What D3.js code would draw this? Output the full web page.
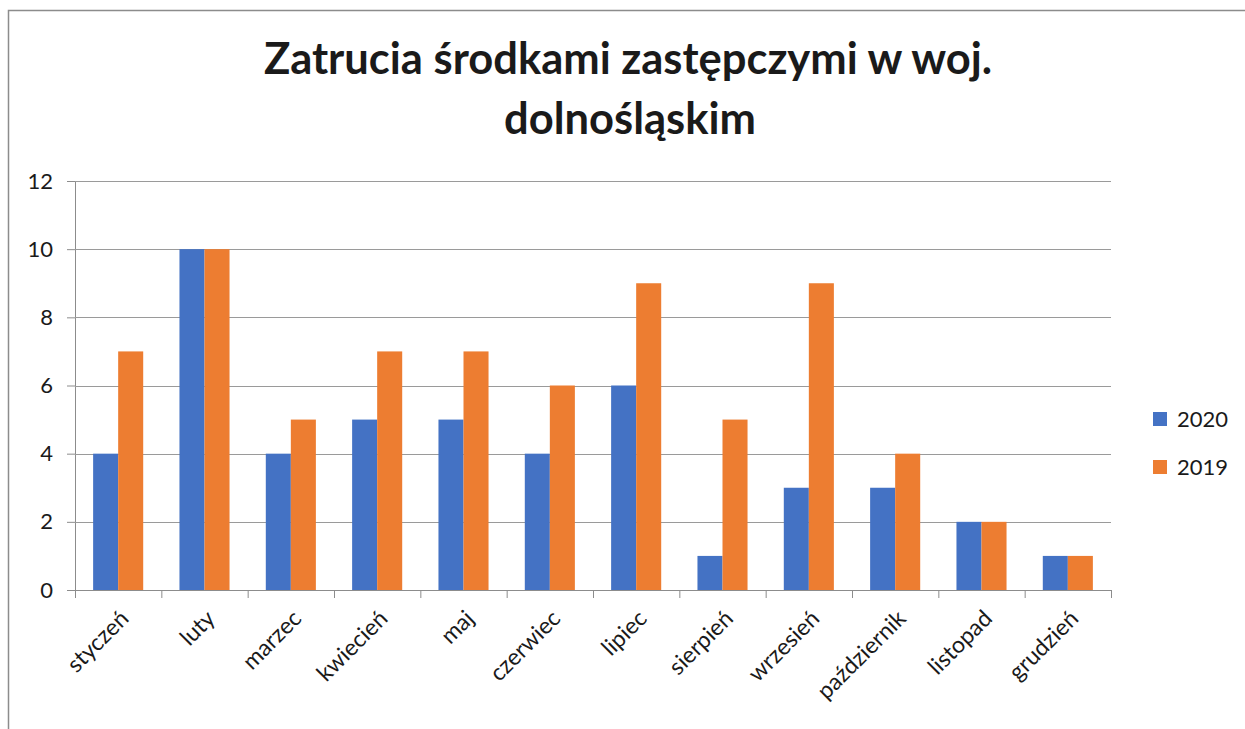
<!DOCTYPE html>
<html lang="pl">
<head>
<meta charset="UTF-8">
<title>Zatrucia środkami zastępczymi</title>
<script src="https://d3js.org/d3.v7.min.js"></script>
<style>
  body { margin: 0; background: #fff; }
  text { font-family: Lato, "Open Sans", sans-serif; fill: #1a1a1a; }
</style>
</head>
<body>
<div id="chart"></div>
<script>
// months (categories)
const months = ["styczeń", "luty", "marzec", "kwiecień", "maj", "czerwiec",
  "lipiec", "sierpień", "wrzesień", "październik", "listopad", "grudzień"];
// series values
const v2020 = [4, 10, 4, 5, 5, 4, 6, 1, 3, 3, 2, 1];
const v2019 = [7, 10, 5, 7, 7, 6, 9, 5, 9, 4, 2, 1];
const seriesNames = ["2020", "2019"];
const yTicks = [0, 2, 4, 6, 8, 10, 12];

const width = 1245, height = 729;
const colors = ["#4472C4", "#ED7D31"];

const svg = d3.select("#chart").append("svg")
  .attr("width", width)
  .attr("height", height);

// chart border (top + left visible)
svg.append("path")
  .attr("d", `M8.5,${height + 5} V10.5 H${width + 5}`)
  .attr("fill", "none")
  .attr("stroke", "#8c8c8c")
  .attr("stroke-width", 1.5);

// title
const title = svg.append("text")
  .attr("text-anchor", "middle")
  .style("font-weight", "bold")
  .style("font-size", "43.5px");
title.append("tspan").attr("x", 628).attr("y", 74).text("Zatrucia środkami zastępczymi w woj.");
title.append("tspan").attr("x", 630).attr("y", 134).text("dolnośląskim");

const x = d3.scaleBand()
  .domain(months)
  .range([75, 1111])
  .paddingInner(0.42)
  .paddingOuter(0.21);

const xSub = d3.scaleBand()
  .domain(seriesNames)
  .range([0, x.bandwidth()]);

const y = d3.scaleLinear()
  .domain([0, 12])
  .range([590, 181]);

// gridlines + y labels
const yAxis = svg.append("g")
  .attr("transform", "translate(75,0)")
  .call(d3.axisLeft(y).tickValues(yTicks).tickSize(8).tickPadding(14).tickFormat(d3.format("d")));
yAxis.select(".domain").attr("stroke", "#8c8c8c");
yAxis.selectAll(".tick line").attr("stroke", "#8c8c8c");
yAxis.selectAll(".tick text").style("font-size", "22px").attr("fill", "#1a1a1a");

svg.append("g")
  .selectAll("line")
  .data(yTicks.filter(d => d > 0))
  .join("line")
  .attr("x1", 75).attr("x2", 1111)
  .attr("y1", d => Math.round(y(d)) + 0.5)
  .attr("y2", d => Math.round(y(d)) + 0.5)
  .attr("stroke", "#9a9a9a")
  .attr("stroke-width", 1);

// bars
const data = months.map((m, i) => ({ month: m, values: [v2020[i], v2019[i]] }));
svg.append("g")
  .selectAll("g")
  .data(data)
  .join("g")
  .attr("transform", d => `translate(${x(d.month)},0)`)
  .selectAll("rect")
  .data(d => d.values.map((v, j) => ({ key: seriesNames[j], value: v, j })))
  .join("rect")
  .attr("x", d => xSub(d.key))
  .attr("width", xSub.bandwidth())
  .attr("y", d => y(d.value))
  .attr("height", d => y(0) - y(d.value))
  .attr("fill", d => colors[d.j]);

// x axis line + boundary ticks
const step = x.step();
svg.append("line")
  .attr("x1", 67).attr("x2", 1111)
  .attr("y1", 590.5).attr("y2", 590.5)
  .attr("stroke", "#8c8c8c");
svg.append("g")
  .selectAll("line")
  .data(d3.range(months.length + 1))
  .join("line")
  .attr("x1", i => 75 + i * step + 0.5)
  .attr("x2", i => 75 + i * step + 0.5)
  .attr("y1", 590).attr("y2", 598)
  .attr("stroke", "#8c8c8c");

// x labels rotated
svg.append("g")
  .selectAll("text")
  .data(months)
  .join("text")
  .attr("text-anchor", "end")
  .attr("transform", d => `translate(${x(d) + x.bandwidth() / 2 + 12},${620}) rotate(-45)`)
  .style("font-size", "23px")
  .text(d => d);

// legend
const legend = svg.append("g")
  .selectAll("g")
  .data(seriesNames)
  .join("g")
  .attr("transform", (d, i) => `translate(1153,${412 + i * 48})`);
legend.append("rect")
  .attr("width", 14).attr("height", 14)
  .attr("fill", (d, i) => colors[i]);
legend.append("text")
  .attr("x", 24).attr("y", 15)
  .style("font-size", "22px")
  .text(d => d);
</script>
</body>
</html>
